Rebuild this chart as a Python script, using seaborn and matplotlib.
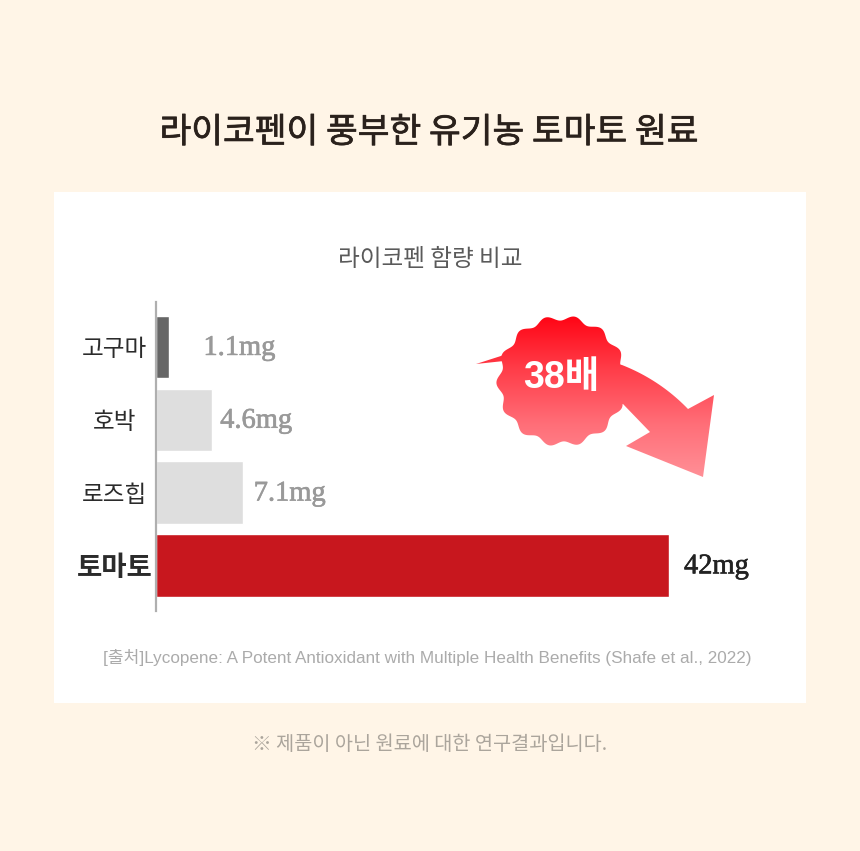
import numpy as np
import pandas as pd
import matplotlib
matplotlib.use("Agg")
import matplotlib.pyplot as plt
import matplotlib.patheffects as pe
from matplotlib.patches import Rectangle, PathPatch
from matplotlib.path import Path
import seaborn as sns

categories = ["고구마", "호박", "로즈힙", "토마토"]
lycopene_mg = [1.1, 4.6, 7.1, 42]
value_labels = ["1.1mg", "4.6mg", "7.1mg", "42mg"]
bar_colors = ["#666666", "#DEDEDE", "#DEDEDE", "#C8171E"]
value_colors = ["#999999", "#999999", "#999999", "#222222"]
label_gaps_px = [34, 8, 11, 15]

BG = "#FFF5E7"
W, H = 860, 851
SANS_KR = ["Liberation Sans", "Noto Sans CJK KR"]


def thicken(color, width):
    return [pe.withStroke(linewidth=width, foreground=color)]


sns.set_theme(style="white")
plt.rcParams["font.family"] = ["Noto Sans CJK KR", "DejaVu Sans"]

fig = plt.figure(figsize=(W / 100, H / 100), dpi=100, facecolor=BG)

# Page layer in pixel coordinates: white card, headings and footnotes
page = fig.add_axes([0, 0, 1, 1], zorder=0)
page.set_xlim(0, W)
page.set_ylim(H, 0)
page.axis("off")
page.add_patch(Rectangle((54, 192), 752, 511, fc="white", ec="none"))
page.text(429, 133, "라이코펜이 풍부한 유기농 토마토 원료", fontsize=24.85, color="#2A211C",
          ha="center", va="center", path_effects=thicken("#2A211C", 0.5))
page.text(430, 260, "라이코펜 함량 비교", fontsize=17, color="#5A5A5A", ha="center", va="center")
page.text(427, 657, "[출처]Lycopene: A Potent Antioxidant with Multiple Health Benefits (Shafe et al., 2022)",
          fontsize=12.3, color="#ABABAB", ha="center", va="center", family=SANS_KR)
page.text(430, 745, "※ 제품이 아닌 원료에 대한 연구결과입니다.", fontsize=14.2, color="#ABA59C",
          ha="center", va="center")

# Bar chart: one unit on x spans about 12.2 px from the baseline at x=156
left, right, top, bottom = 156, 760, 302, 611
ax = fig.add_axes([left / W, 1 - bottom / H, (right - left) / W, (bottom - top) / H], zorder=1)
ax.patch.set_alpha(0)
df = pd.DataFrame({"category": categories, "mg": lycopene_mg})
sns.barplot(data=df, y="category", x="mg", hue="category", order=categories, hue_order=categories,
            palette=bar_colors, width=0.86, legend=False, saturation=1, ax=ax)
ax.set_xlim(0, (right - left) / 12.214)
ax.set_ylim(3.625, -0.618)
ax.set_xlabel("")
ax.set_ylabel("")
ax.set_xticks([])
for name in ("top", "right", "bottom"):
    ax.spines[name].set_visible(False)
ax.spines["left"].set_color("#AFAFAF")
ax.spines["left"].set_linewidth(1.6)
ax.tick_params(axis="y", length=0, pad=30)
for i, tick in enumerate(ax.get_yticklabels()):
    tick.set_ha("center")
    tick.set_color("#2B2B2B")
    tick.set_fontsize(17)
    if i == len(categories) - 1:
        tick.set_fontweight("bold")
        tick.set_fontsize(19.8)

for i, (v, text, col, gap) in enumerate(zip(lycopene_mg, value_labels, value_colors, label_gaps_px)):
    ax.annotate(text, xy=(v, i), xytext=(gap * 0.72, -1), textcoords="offset points",
                ha="left", va="center", fontsize=20.5, color=col,
                family="Liberation Serif", path_effects=thicken(col, 0.45))

# Badge and arrow callout, filled with a vertical red gradient
over = fig.add_axes([0, 0, 1, 1], zorder=2)
over.set_xlim(0, W)
over.set_ylim(H, 0)
over.axis("off")

theta = np.linspace(0, 2 * np.pi, 400, endpoint=False)
radius = 63 + 2.6 * np.cos(14 * theta + 0.4)
badge_xy = np.column_stack([562 + radius * np.cos(theta), 381 + radius * np.sin(theta)])

# Upper edge of the arrow shaft bends gently towards the head
t = np.linspace(0, 1, 24)[:, None]
shaft_edge = (1 - t) ** 2 * np.array([[622, 365]]) + 2 * t * (1 - t) * np.array([[660, 380]]) \
    + t ** 2 * np.array([[688, 409]])
arrow_xy = [(600, 360)] + [tuple(p) for p in shaft_edge] + \
    [(714, 395), (703, 477), (626, 446), (650, 432), (623, 404), (590, 400)]
sliver_xy = [(476, 364), (504, 355), (504, 361)]

verts, codes = [], []
for poly in (badge_xy, arrow_xy, sliver_xy):
    poly = [tuple(p) for p in poly]
    verts += poly + [poly[0]]
    codes += [Path.MOVETO] + [Path.LINETO] * (len(poly) - 1) + [Path.CLOSEPOLY]
clip = PathPatch(Path(verts, codes), fc="none", ec="none", transform=over.transData)
over.add_patch(clip)

stops = np.array([[255, 0, 16], [255, 60, 72], [255, 110, 120], [255, 145, 152]]) / 255
ramp_pos = np.linspace(0, 1, 200)
ramp = np.column_stack([np.interp(ramp_pos, np.linspace(0, 1, 4), stops[:, c]) for c in range(3)])
img = over.imshow(ramp[:, None, :], extent=(470, 720, 480, 312), aspect="auto",
                  interpolation="bilinear", zorder=2)
img.set_clip_path(clip)
over.set_xlim(0, W)
over.set_ylim(H, 0)

over.text(561, 378, "38배", fontsize=27, color="white", fontweight="bold",
          ha="center", va="center", zorder=3, family=SANS_KR)

fig.savefig("out.png", dpi=100, facecolor=BG)
